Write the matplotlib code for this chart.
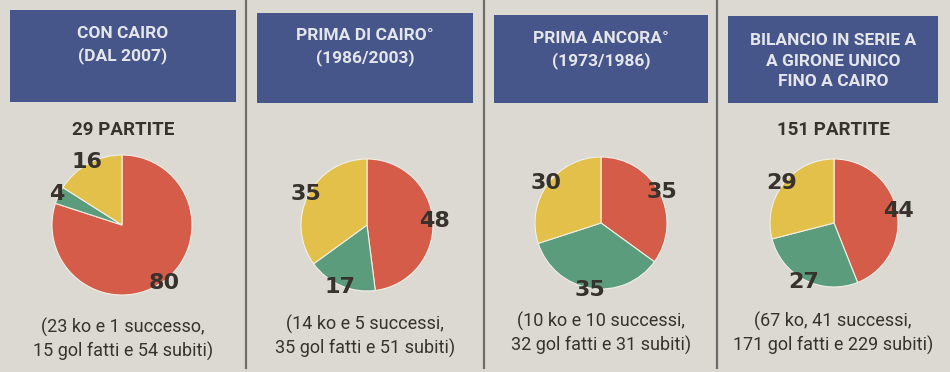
import matplotlib
matplotlib.use("Agg")
import matplotlib.pyplot as plt
from matplotlib.patches import Rectangle
from matplotlib.lines import Line2D

# data (percentages)
titles = ["CON CAIRO\n(DAL 2007)",
          "PRIMA DI CAIRO°\n(1986/2003)",
          "PRIMA ANCORA°\n(1973/1986)",
          "BILANCIO IN SERIE A\nA GIRONE UNICO\nFINO A CAIRO"]
partite = ["29 PARTITE", "", "", "151 PARTITE"]
sconfitte = [80, 48, 35, 44]
vittorie = [4, 17, 35, 27]
pareggi = [16, 35, 30, 29]
notes = ["(23 ko e 1 successo,\n15 gol fatti e 54 subiti)",
         "(14 ko e 5 successi,\n35 gol fatti e 51 subiti)",
         "(10 ko e 10 successi,\n32 gol fatti e 31 subiti)",
         "(67 ko, 41 successi,\n171 gol fatti e 229 subiti)"]

W, H = 950, 372
BG = "#dcd9d3"
BLUE = "#46568a"
RED = "#d45c48"
GREEN = "#5a9c7c"
YELLOW = "#e2c04a"
INK = "#37322d"

# layout in pixels: header box (x0, x1, y0, y1), pie centre + radius, text rows
boxes = [(10, 236, 10, 102), (257, 473, 13, 103), (494, 708, 15, 103), (728, 938, 16, 103)]
pies = [(122, 225, 70), (367, 225, 66), (601, 223, 66), (834, 223, 64)]
title_y = [45, 47, 50, 61]
note_y = [339, 336, 333, 333]
separators = [246, 484, 717]


def fx(x):
    return x / W


def fy(y):
    return 1 - y / H


fig = plt.figure(figsize=(9.5, 3.72), dpi=100, facecolor=BG)

for xs in separators:
    fig.add_artist(Line2D([fx(xs), fx(xs)], [fy(0), fy(368)], color="#6e6c69",
                          lw=1.6, transform=fig.transFigure))

for i in range(4):
    x0, x1, y0, y1 = boxes[i]
    fig.add_artist(Rectangle((fx(x0), fy(y1)), fx(x1 - x0), (y1 - y0) / H,
                             transform=fig.transFigure, facecolor=BLUE, edgecolor="none"))
    xc = (x0 + x1) / 2
    fig.text(fx(xc), fy(title_y[i]), titles[i], ha="center", va="center",
             color="#e4e6ec", fontsize=12.5, fontweight="bold", family="Roboto",
             linespacing=1.42)

    if partite[i]:
        fig.text(fx(xc), fy(130), partite[i], ha="center", va="center",
                 color=INK, fontsize=13.5, fontweight="bold", family="Roboto")

    cx, cy, r = pies[i]
    ax = fig.add_axes([fx(cx - r), fy(cy + r), 2 * r / W, 2 * r / H])
    vals = [sconfitte[i], vittorie[i], pareggi[i]]
    wedges, texts, autotexts = ax.pie(
        vals, colors=[RED, GREEN, YELLOW], startangle=90, counterclock=False,
        autopct=lambda p: f"{p:.0f}", pctdistance=1.03,
        wedgeprops=dict(edgecolor="#f2efe6", linewidth=0.8))
    for t in autotexts:
        t.set_fontsize(16)
        t.set_fontweight("bold")
        t.set_color(INK)
    ax.set_xlim(-1, 1)
    ax.set_ylim(-1, 1)
    ax.set_aspect("equal")
    ax.axis("off")

    fig.text(fx(xc), fy(note_y[i]), notes[i], ha="center", va="center",
             color=INK, fontsize=13, family="Roboto", linespacing=1.32)

fig.savefig("out.png", dpi=100, facecolor=BG)
